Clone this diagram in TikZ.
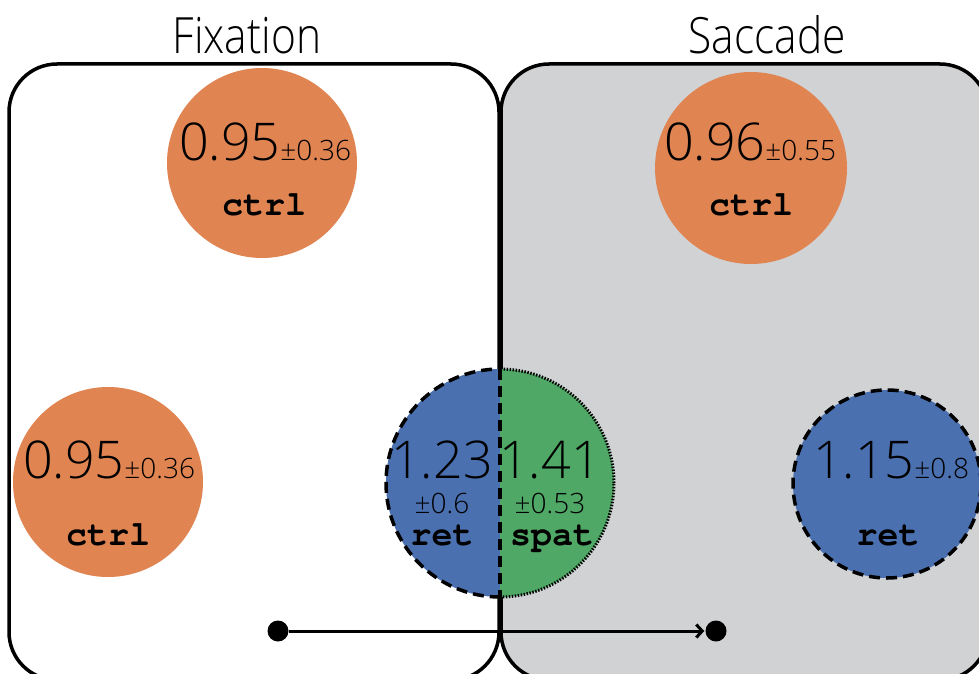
\documentclass[tikz,border=0pt]{standalone}
\usepackage{fontspec}
\newfontfamily\numfont{Open Sans Light}
\newfontfamily\titlefont{Open Sans Light}[FakeStretch=0.85]
\newfontfamily\codefont{TeX Gyre Cursor}
\usetikzlibrary{arrows.meta}
\definecolor{boxgray}{RGB}{209,210,212}
\definecolor{ctrlorange}{RGB}{224,132,82}
\definecolor{retblue}{RGB}{74,112,176}
\definecolor{spatgreen}{RGB}{79,168,101}
\newcommand{\bignum}[2]{{\numfont\fontsize{52}{52}\selectfont #1\fontsize{28}{28}\selectfont #2}}
\newcommand{\smallnum}[1]{{\numfont\fontsize{28}{28}\selectfont #1}}
\newcommand{\codelabel}[1]{{\codefont\bfseries\fontsize{35}{35}\selectfont #1}}
\begin{document}
\begin{tikzpicture}[x=1pt,y=-1pt,
  phase/.style={draw=black, line width=3.5pt, rounded corners=48pt, inner sep=0pt},
  disc/.style={circle, inner sep=0pt, minimum size=#1},
  txt/.style={anchor=base, inner sep=0pt},
  title/.style={anchor=base, inner sep=0pt, font=\titlefont\fontsize{50}{50}\selectfont},
  dot/.style={circle, fill=black, inner sep=0pt, minimum size=21pt},
  retborder/.style={line width=3.5pt, dash pattern=on 11pt off 6pt},
  spatborder/.style={line width=3pt, dash pattern=on 1.5pt off 1.5pt}]
\useasboundingbox (0,0) rectangle (979,674);
\clip (0,0) rectangle (979,674);

% the two phases
\node[phase, fill=boxgray, minimum width=487pt, minimum height=616pt] (saccbox) at (744.5,372) {};
\node[phase, fill=white, minimum width=490pt, minimum height=616pt] (fixbox) at (254,372) {};
\node[title] (fixtitle) at (247,54) {Fixation};
\node[title] (sacctitle) at (767,54) {Saccade};

% control units
\node[disc=190pt, fill=ctrlorange] (ctrlA) at (262,163) {};
\node[disc=192pt, fill=ctrlorange] (ctrlB) at (751,168) {};
\node[disc=190pt, fill=ctrlorange] (ctrlC) at (108,482) {};

% retinotopic unit in saccade phase
\node[disc=188pt, fill=retblue, draw=black, retborder] (retB) at (887,484) {};

% split unit across the boundary
\node[disc=228pt] (mid) at (500,483) {};
\begin{scope}
  \clip ([shift={(-130,-130)}]mid.center) rectangle ([shift={(0,130)}]mid.center);
  \fill[retblue] (mid.center) circle (114pt);
  \draw[retborder] (mid.center) circle (114pt);
\end{scope}
\begin{scope}
  \clip ([shift={(0,-130)}]mid.center) rectangle ([shift={(130,130)}]mid.center);
  \fill[spatgreen] (mid.center) circle (114pt);
  \draw[spatborder] (mid.center) circle (114pt);
\end{scope}
\draw[retborder] (mid.north) -- (mid.south);

% labels
\node[txt] (vA) at (265,160) {\bignum{0.95}{±0.36}};
\node[txt] (cA) at (264,215) {\codelabel{ctrl}};
\node[txt] (vB) at (750,160) {\bignum{0.96}{±0.55}};
\node[txt] (cB) at (751,215) {\codelabel{ctrl}};
\node[txt] (vC) at (109,478) {\bignum{0.95}{±0.36}};
\node[txt] (cC) at (108,545) {\codelabel{ctrl}};
\node[txt] (vR) at (891,478) {\bignum{1.15}{±0.8}};
\node[txt] (cR) at (888,545) {\codelabel{ret}};
\node[txt] (vL) at (442,478) {\bignum{1.23}{}};
\node[txt] (eL) at (442,513) {\smallnum{±0.6}};
\node[txt] (cL) at (442,545) {\codelabel{ret}};
\node[txt] (vS) at (550,478) {\bignum{1.41}{}};
\node[txt] (eS) at (550,513) {\smallnum{±0.53}};
\node[txt] (cS) at (552,545) {\codelabel{spat}};

% eye movement
\node[dot] (start) at (278,631) {};
\node[dot] (end) at (716,631) {};
\draw[line width=3pt, -{Straight Barb[length=6pt,width=13pt,line width=3pt]}, shorten >=1pt] (start) -- (end);
\end{tikzpicture}
\end{document}
